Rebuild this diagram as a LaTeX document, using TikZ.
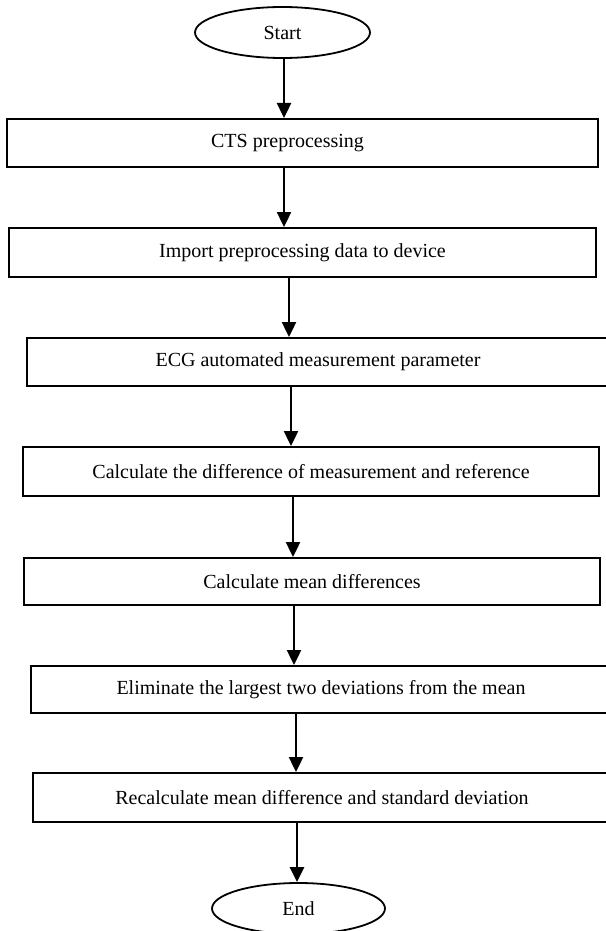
\documentclass[tikz,border=0pt]{standalone}
\usepackage{fontspec}
\setmainfont{Liberation Serif}
\usetikzlibrary{arrows.meta,positioning,shapes.geometric}
\definecolor{Ink}{HTML}{000000}
\tikzset{
  termbox/.style={draw=Ink,ellipse,line width=1.8pt,minimum width=175pt,minimum height=51pt,inner sep=0pt,font=\fontsize{20}{24}\selectfont,text=Ink},
  procbox/.style={draw=Ink,rectangle,line width=2pt,minimum height=48pt,inner sep=0pt,align=center,font=\fontsize{20}{24}\selectfont,text=Ink},
  line/.style={-{Triangle[length=15pt,width=14pt]},draw=Ink,line width=2.4pt}
}

\begin{document}
\begin{tikzpicture}[x=1pt,y=-1pt]
  \useasboundingbox (0,0) rectangle (605,931);
  \node[termbox] (start) at (282.5,32.5) {Start};
  \node[procbox,minimum width=591pt] (cts) at (302.5,143) {CTS preprocessing\hspace*{30pt}};
  \node[procbox,minimum width=587pt,minimum height=49pt] (imp) at (302.5,252.5) {Import preprocessing data to device};
  \node[procbox,minimum width=582pt] (ecg) at (318,362) {ECG automated measurement parameter};
  \node[procbox,minimum width=576pt,minimum height=49pt] (diff) at (311,471.5) {Calculate the difference of measurement and reference};
  \node[procbox,minimum width=576pt,minimum height=47pt] (mean) at (312,581.5) {Calculate mean differences};
  \node[procbox,minimum width=580pt,minimum height=47pt] (elim) at (321,689.5) {Eliminate the largest two deviations from the mean};
  \node[procbox,minimum width=578pt,minimum height=49pt] (recalc) at (322,797.5) {Recalculate mean difference and standard deviation};
  \node[termbox,minimum width=173pt] (end) at (298.5,908.5) {End};
  % flow, top to bottom
  \draw[line] (start.south -| 284,0) -- (cts.north -| 284,0);
  \draw[line] (cts.south -| 284,0) -- (imp.north -| 284,0);
  \draw[line] (imp.south -| 289,0) -- (ecg.north -| 289,0);
  \draw[line] (ecg.south -| 291,0) -- (diff.north -| 291,0);
  \draw[line] (diff.south -| 293,0) -- (mean.north -| 293,0);
  \draw[line] (mean.south -| 294,0) -- (elim.north -| 294,0);
  \draw[line] (elim.south -| 296,0) -- (recalc.north -| 296,0);
  \draw[line] (recalc.south -| 297,0) -- (end.north -| 297,0);
\end{tikzpicture}
\end{document}
